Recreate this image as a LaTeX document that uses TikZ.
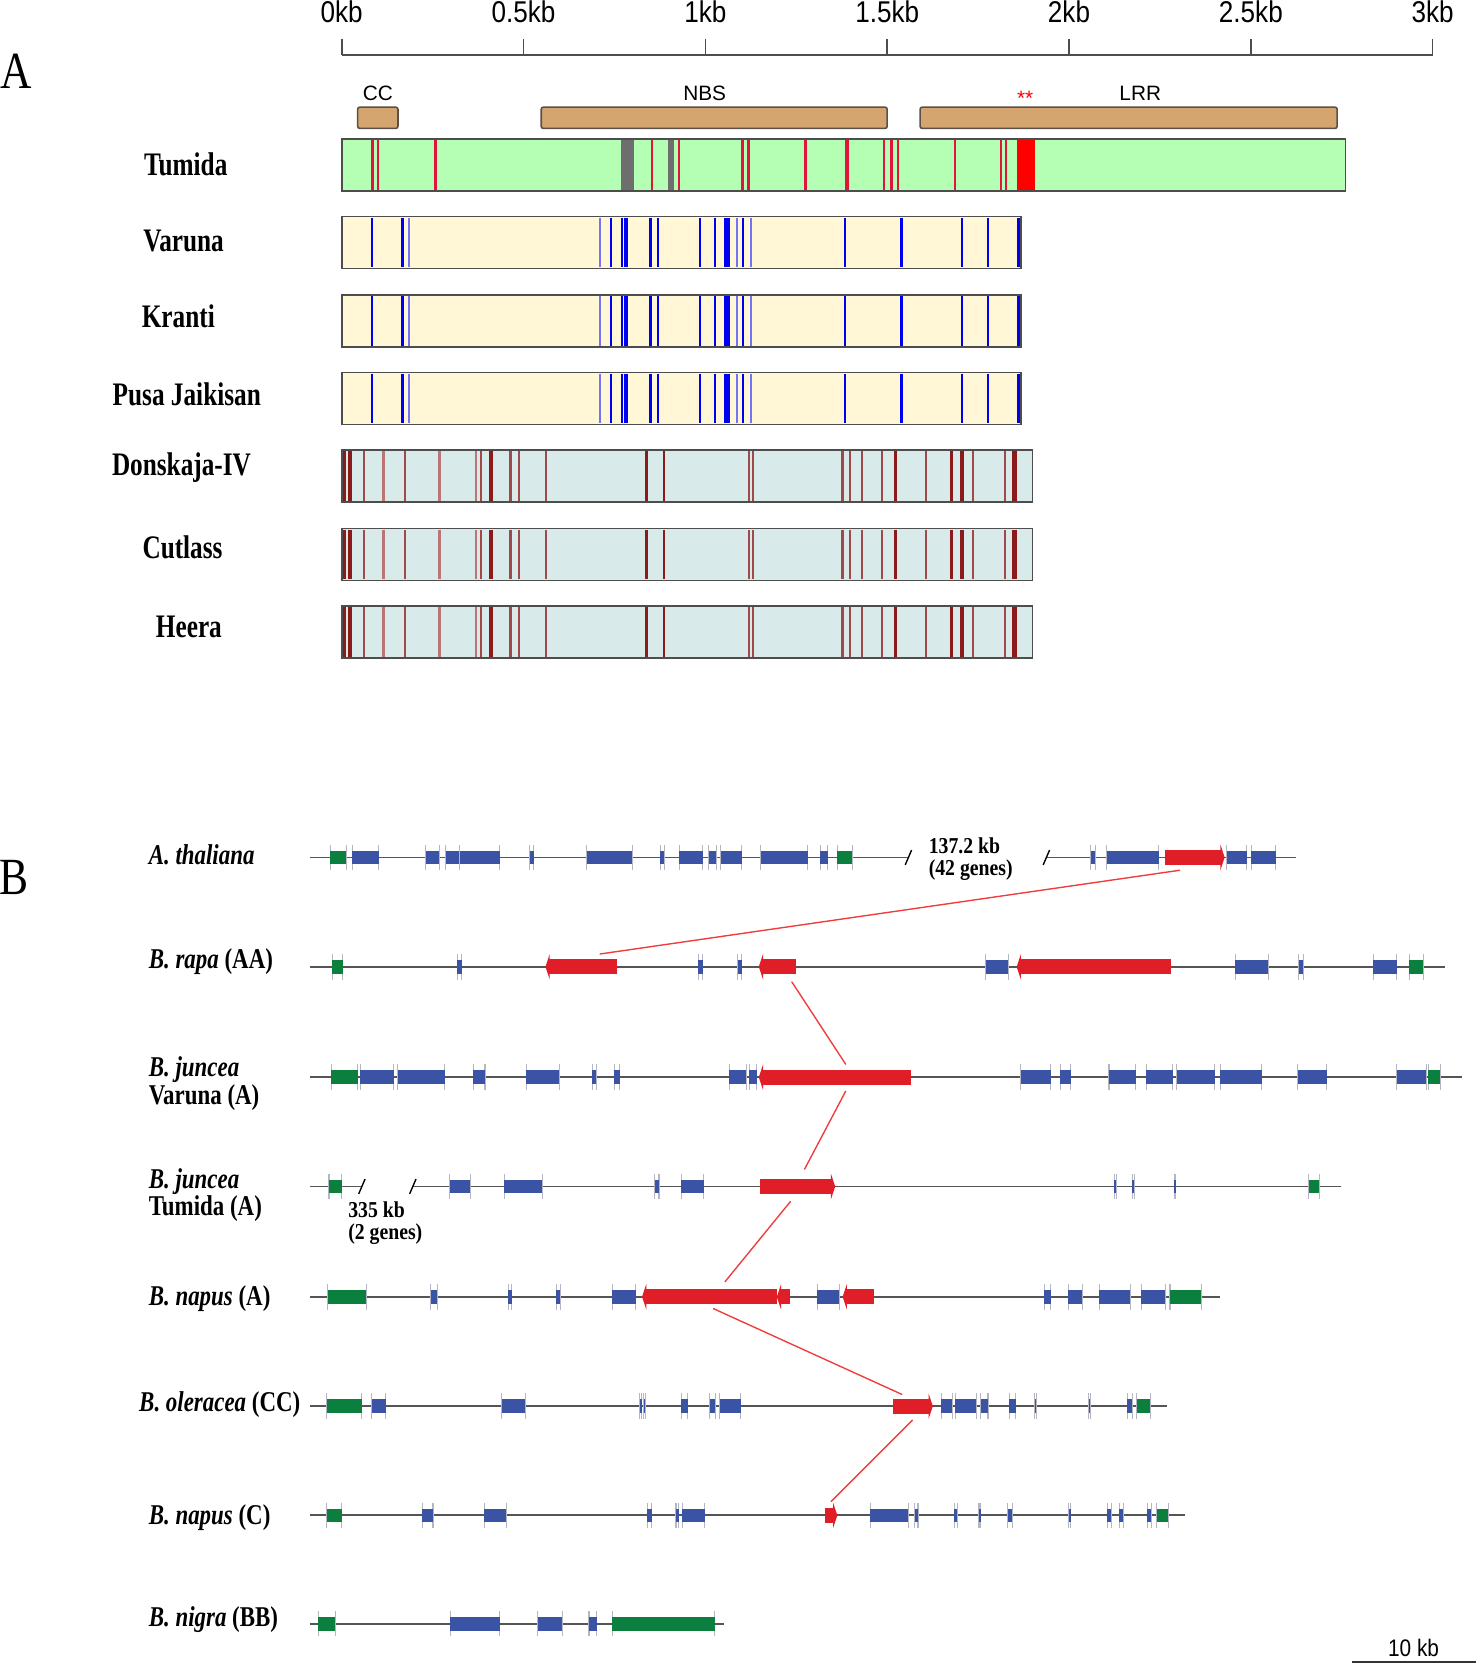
\documentclass[tikz,border=0pt]{standalone}
\usepackage{fontspec}
\setmainfont{Liberation Serif}
\setsansfont{Liberation Sans}
\usepackage{graphicx}
\usetikzlibrary{positioning}
\definecolor{tanbox}{HTML}{D4A56E}
\definecolor{boxline}{HTML}{5A5047}
\definecolor{barline}{HTML}{4D4D4D}
\definecolor{tumfill}{HTML}{B4FFB4}
\definecolor{varfill}{HTML}{FFF7D6}
\definecolor{donfill}{HTML}{D9EAEA}
\definecolor{tumred}{HTML}{E0143C}
\definecolor{mkgray}{HTML}{6E6E6E}
\definecolor{mkblue}{HTML}{0000F0}
\definecolor{mkdark}{HTML}{8C1A1A}
\definecolor{gblue}{HTML}{3A53A4}
\definecolor{ggreen}{HTML}{0B7F3D}
\definecolor{gred}{HTML}{E01E27}
\definecolor{tickgray}{HTML}{B4B6C4}
\definecolor{trackgray}{HTML}{555555}
\definecolor{linkred}{HTML}{F03C3C}
\newcommand{\vstretch}[2][1.2]{\scalebox{1}[#1]{#2}}
% gene box: [colour]{x1}{x2}{y}
\newcommand{\gene}[4][gblue]{%
  \draw[gtick] (#2,#4-12) -- (#2,#4+12) (#3,#4-12) -- (#3,#4+12);
  \fill[#1] (#2,#4-6.5) rectangle (#3,#4+6.5);}
% red gene pointing left: {name}{x1}{x2}{y}
\newcommand{\genel}[4]{%
  \node[rgene, minimum width={(#3-#2-3)*1pt}, anchor=west] (#1) at (#2+3,#4) {};
  \fill[gred] (#2,#4) -- (#2+4,#4-12) -- (#2+4,#4+12) -- cycle;}
% red gene pointing right: {name}{x1}{x2}{y}
\newcommand{\gener}[4]{%
  \node[rgene, minimum width={(#3-#2-3)*1pt}, anchor=west] (#1) at (#2,#4) {};
  \fill[gred] (#3,#4) -- (#3-4,#4-12) -- (#3-4,#4+12) -- cycle;}

\begin{document}
\begin{tikzpicture}[x=1pt, y=-1pt,
  panel/.style={font=\fontsize{41}{45}\selectfont, inner sep=0},
  ticklab/.style={font=\sffamily\fontsize{24.6}{28}\selectfont, inner sep=0},
  domlab/.style={font=\sffamily\fontsize{19.6}{22}\selectfont, inner sep=0},
  axisline/.style={draw=barline, line width=1.5pt},
  dombox/.style={rectangle, draw=boxline, fill=tanbox, line width=1.5pt, rounded corners=2pt, minimum height=20pt, anchor=west, inner sep=0, outer sep=0},
  bar/.style={rectangle, draw=barline, line width=1.5pt, minimum height=49pt, anchor=west, inner sep=0, outer sep=0},
  rowlab/.style={font=\bfseries\fontsize{23.8}{26}\selectfont, inner sep=0},
  splab/.style={font=\bfseries\fontsize{21.6}{24}\selectfont, inner sep=0, anchor=west},
  note/.style={font=\bfseries\fontsize{18.6}{21}\selectfont, inner sep=0, anchor=west},
  track/.style={draw=trackgray, line width=1.8pt},
  slash/.style={draw=black, line width=1.3pt},
  gtick/.style={draw=tickgray, line width=1pt},
  rgene/.style={rectangle, fill=gred, inner sep=0, outer sep=0, minimum height=14pt},
  link/.style={draw=linkred, line width=1.3pt}
]
\useasboundingbox (0,0) rectangle (1391,1568);

%%% Panel A
\node[panel] (pA) at (15,67) {\vstretch{A}};

% scale in kb
\draw[axisline] (322,52) -- (1350,52);
\foreach \k/\lab [count=\i] in {0/0kb,0.5/0.5kb,1/1kb,1.5/1.5kb,2/2kb,2.5/2.5kb,3/3kb}{
  \draw[axisline] ({322+342.67*\k},37) -- ({322+342.67*\k},52);
  \node[ticklab] (tick\i) at ({322+342.67*\k},11) {\vstretch[1.15]{\lab}};
}

% domains
\node[dombox, minimum width=38pt] (cc) at (337,111) {};
\node[dombox, minimum width=326pt] (nbs) at (510,111) {};
\node[dombox, minimum width=393pt] (lrr) at (867,111) {};
\node[domlab, above=6pt of cc] (cclab) {CC};
\node[domlab, above=6pt of nbs, xshift=-9pt] (nbslab) {NBS};
\node[domlab, above=6pt of lrr, xshift=11pt] (lrrlab) {LRR};
\node[domlab, text=red] (stars) at (966,93) {**};

% Tumida
\node[bar, fill=tumfill, minimum width=946pt] (tumida) at (322,155.5) {};
\node[rowlab] (tumlab) at (175,155) {\vstretch[1.3]{Tumida}};
\fill[mkgray] (585,132) rectangle (597,179);
\fill[mkgray] (629,132) rectangle (635,179);
\foreach \x in {351,356,614,640,759,833,840,846,900,943,948}
  \draw[tumred, line width=2pt] (\x,132) -- (\x,179);
\foreach \x/\w in {410/3,700/3,705/3,798/4}
  \draw[tumred, line width=\w pt] (\x,132) -- (\x,179);
\fill[red] (958,132) rectangle (975,179);

% Varuna, Kranti, Pusa Jaikisan
\foreach \yy/\nm/\lab/\lx/\ly in {228.5/varuna/Varuna/173/227, 302.5/kranti/Kranti/168/298, 375.5/pusa/Pusa Jaikisan/176/372}{
  \node[bar, fill=varfill, minimum width=640pt] (\nm) at (322,\yy) {};
  \node[rowlab] (\nm lab) at (\lx,\ly) {\vstretch[1.3]{\lab}};
  \foreach \x in {350.8,379.3,575.9,585.8,613,620.4,659.3,673.6,700.4,796.5,906.4,931}
    \draw[mkblue, line width=2pt] (\x,\yy-23.5) -- (\x,\yy+23.5);
  \foreach \x in {385.5,565.5,694.8,707.4}
    \draw[mkblue!55, line width=2pt] (\x,\yy-23.5) -- (\x,\yy+23.5);
  \foreach \x/\w in {590.1/3.5,849.7/3,685.2/6,959.8/3.5}
    \draw[mkblue, line width=\w pt] (\x,\yy-23.5) -- (\x,\yy+23.5);
}

% Donskaja-IV, Cutlass, Heera
\foreach \yy/\nm/\lab/\lx/\ly in {448.5/donskaja/Donskaja-IV/171/441, 522.5/cutlass/Cutlass/172/516, 595.5/heera/Heera/178/591}{
  \node[bar, fill=donfill, minimum width=651pt] (\nm) at (322,\yy) {};
  \node[rowlab] (\nm lab) at (\lx,\ly) {\vstretch[1.3]{\lab}};
  \foreach \x in {342.6,381.5,452.9,481,488.8,514.4,705.6,709.9,793.9,801.2,812.1,831.5,872.2,916.8,947}
    \draw[mkdark!80, line width=2pt] (\x,\yy-23.5) -- (\x,\yy+23.5);
  \foreach \x in {361.6,414,448.6}
    \draw[mkdark!60, line width=2.5pt] (\x,\yy-23.5) -- (\x,\yy+23.5);
  \foreach \x/\w in {325/3,330/3.5,462.4/4,609.5/2.5,625.6/2.5,844.1/2.5,896.4/2.5,906.4/4,956.3/4.5}
    \draw[mkdark, line width=\w pt] (\x,\yy-23.5) -- (\x,\yy+23.5);
}

%%% Panel B
\node[panel] (pB) at (13.5,826.5) {\vstretch{B}};

% A. thaliana
\node[splab] (thal) at (140,805) {\vstretch[1.25]{\itshape A. thaliana}};
\draw[track] (292,808) -- (856,808);
\draw[track] (986,808) -- (1221,808);
\draw[slash] (853,815) -- (859,801) (983,815) -- (989,801);
\node[note] (thgap) at (875,797) {\vstretch[1.15]{137.2 kb}};
\node[note] (thgenes) at (875,820) {\vstretch[1.15]{(42 genes)}};
\gene[ggreen]{311}{326.5}{808}
\gene{332}{357}{808}
\gene{401}{414}{808}
\gene{420}{433}{808}
\gene{433}{471}{808}
\gene{499}{503}{808}
\gene{553}{596}{808}
\gene{622}{626}{808}
\gene{640}{662}{808}
\gene{668}{675}{808}
\gene{679}{699}{808}
\gene{717}{761}{808}
\gene{773}{780}{808}
\gene[ggreen]{789}{803}{808}
\gene{1028}{1032}{808}
\gene{1043}{1092}{808}
\gener{thR}{1098}{1154}{808}
\gene{1156}{1175}{808}
\gene{1179}{1202}{808}

% B. rapa
\node[splab] (rapa) at (140,906) {\vstretch[1.25]{{\itshape B. rapa} (AA)}};
\draw[track] (292,911) -- (1362,911);
\gene[ggreen]{313}{323}{911}
\gene{431}{435}{911}
\genel{raR1}{514}{581}{911}
\gene{658}{662}{911}
\gene{695}{699}{911}
\genel{raR2}{715}{750}{911}
\gene{929}{950}{911}
\genel{raR3}{958}{1103}{911}
\gene{1164}{1195}{911}
\gene{1224}{1228}{911}
\gene{1294}{1316}{911}
\gene[ggreen]{1328}{1341}{911}

% B. juncea Varuna
\node[splab] (junv) at (140,1008) {\vstretch[1.25]{\itshape B. juncea}};
\node[splab] (junvb) at (140,1034) {\vstretch[1.25]{Varuna (A)}};
\draw[track] (292,1015) -- (1378,1015);
\gene[ggreen]{312}{337}{1015}
\gene{339.5}{371}{1015}
\gene{375}{419}{1015}
\gene{446}{457}{1015}
\gene{496}{527}{1015}
\gene{558}{562}{1015}
\gene{579}{584}{1015}
\gene{687}{703}{1015}
\gene{706}{713}{1015}
\genel{vaR}{715}{858}{1015}
\gene{962}{990}{1015}
\gene{999}{1009}{1015}
\gene{1045}{1070}{1015}
\gene{1080}{1105}{1015}
\gene{1109}{1144.5}{1015}
\gene{1150}{1189}{1015}
\gene{1223}{1250}{1015}
\gene{1316}{1344}{1015}
\gene[ggreen]{1346}{1357}{1015}

% B. juncea Tumida
\node[splab] (junt) at (140,1113) {\vstretch[1.25]{\itshape B. juncea}};
\node[splab] (juntb) at (140,1139) {\vstretch[1.25]{Tumida (A)}};
\draw[track] (292,1118) -- (341,1118);
\draw[track] (389,1118) -- (1264,1118);
\draw[slash] (338,1125) -- (344,1111) (386,1125) -- (392,1111);
\node[note] (tugap) at (328,1140) {\vstretch[1.15]{335 kb}};
\node[note] (tugenes) at (328,1163) {\vstretch[1.15]{(2 genes)}};
\gene[ggreen]{310}{322}{1118}
\gene{424}{443}{1118}
\gene{475}{511}{1118}
\gene{617}{621}{1118}
\gene{642}{663}{1118}
\gener{tuR}{716}{787}{1118}
\gene{1050}{1052}{1118}
\gene{1067}{1069}{1118}
\gene{1106.5}{1108}{1118}
\gene[ggreen]{1233}{1243}{1118}

% B. napus (A)
\node[splab] (napa) at (140,1224) {\vstretch[1.25]{{\itshape B. napus} (A)}};
\draw[track] (292,1222) -- (1150,1222);
\gene[ggreen]{309}{345}{1222}
\gene{406}{412}{1222}
\gene{479}{482}{1222}
\gene{524}{528}{1222}
\gene{577}{599}{1222}
\genel{naR1}{605}{732}{1222}
\genel{naR2}{732}{744}{1222}
\gene{770}{791}{1222}
\genel{naR3}{794}{824}{1222}
\gene{984}{990}{1222}
\gene{1006.5}{1020}{1222}
\gene{1036}{1065}{1222}
\gene{1075.5}{1098}{1222}
\gene[ggreen]{1102.5}{1132}{1222}

% B. oleracea
\node[splab] (oler) at (131,1324) {\vstretch[1.25]{{\itshape B. oleracea} (CC)}};
\draw[track] (292,1325) -- (1100,1325);
\gene[ggreen]{308}{341}{1325}
\gene{350.5}{363.5}{1325}
\gene{473}{495}{1325}
\gene{603}{604.5}{1325}
\gene{606.5}{608}{1325}
\gene{642}{648}{1325}
\gene{669}{674}{1325}
\gene{678}{698}{1325}
\gener{olR}{841}{879}{1325}
\gene{887}{897.5}{1325}
\gene{900}{920}{1325}
\gene{924}{931}{1325}
\gene{951}{957}{1325}
\gene{975}{976.5}{1325}
\gene{1025.7}{1027.5}{1325}
\gene{1062}{1067}{1325}
\gene[ggreen]{1071}{1084}{1325}

% B. napus (C)
\node[splab] (napc) at (140,1430) {\vstretch[1.25]{{\itshape B. napus} (C)}};
\draw[track] (292,1428) -- (1117,1428);
\gene[ggreen]{308}{322}{1428}
\gene{398}{408}{1428}
\gene{456.5}{477}{1428}
\gene{610}{614}{1428}
\gene{637}{639.5}{1428}
\gene{643}{664}{1428}
\gener{ncR}{777}{789}{1428}
\gene{820}{856}{1428}
\gene{862}{865}{1428}
\gene{899}{902}{1428}
\gene{922.5}{924}{1428}
\gene{949.5}{954}{1428}
\gene{1007}{1009}{1428}
\gene{1043.5}{1047}{1428}
\gene{1054.5}{1058.5}{1428}
\gene{1081}{1085}{1428}
\gene[ggreen]{1090}{1101}{1428}

% B. nigra
\node[splab] (nigr) at (140,1526) {\vstretch[1.25]{{\itshape B. nigra} (BB)}};
\draw[track] (292,1530) -- (682,1530);
\gene[ggreen]{300}{316}{1530}
\gene{424.5}{471}{1530}
\gene{506.5}{530}{1530}
\gene{555}{562.5}{1530}
\gene[ggreen]{577}{673.5}{1530}

% orthologue links
\draw[link] ([xshift=-12.5pt,yshift=-5pt]thR.south) -- ([xshift=16pt,yshift=5pt]raR1.north);
\draw[link] ([xshift=12pt,yshift=-7pt]raR2.south) -- ([xshift=9pt,yshift=5pt]vaR.north);
\draw[link] ([xshift=9pt,yshift=-6pt]vaR.south) -- ([xshift=8pt,yshift=9pt]tuR.north);
\draw[link] ([xshift=-5pt,yshift=-7pt]tuR.south) -- ([xshift=13pt,yshift=7pt]naR1.north);
\draw[link] ([xshift=2pt,yshift=-4pt]naR1.south) -- ([xshift=-8.5pt,yshift=4pt]olR.north);
\draw[link] ([xshift=1.5pt,yshift=-6pt]olR.south) -- ([xshift=1.5pt,yshift=6pt]ncR.north);

% scale bar
\draw[track, draw=black!80] (1274,1566) -- (1391,1566);
\node[domlab] (scalelab) at (1332,1553) {\vstretch[1.15]{10 kb}};

\end{tikzpicture}
\end{document}
